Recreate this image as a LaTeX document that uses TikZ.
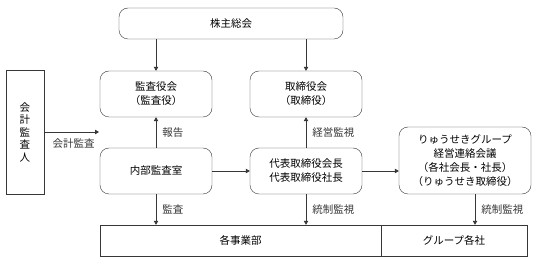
\documentclass[tikz,border=0pt]{standalone}
\usepackage{fontspec}
\setmainfont{Noto Sans CJK JP}
\usetikzlibrary{arrows.meta, positioning, calc}
\definecolor{linegray}{RGB}{55, 55, 55}

\begin{document}
\begin{tikzpicture}[x=1pt, y=-1pt,
  rbox/.style={draw=linegray, rounded corners=9pt, inner sep=0pt, align=center, font=\fontsize{10.5}{14}\selectfont},
  sbox/.style={draw=linegray, inner sep=0pt, align=center, font=\fontsize{10.5}{14}\selectfont},
  arr/.style={-{Triangle[length=4pt, width=4.5pt]}, linegray, line width=0.8pt},
  lbl/.style={font=\fontsize{10.5}{14}\selectfont, inner sep=0pt, right=6pt}
]
  \fill[white] (0,0) rectangle (543,264);
  \useasboundingbox (0,0) rectangle (543,264);

  \node[rbox, minimum width=224pt, minimum height=31pt] (kabu) at (231, 23.5) {株主総会};
  \node[rbox, minimum width=112pt, minimum height=46pt] (kansa) at (156, 94) {監査役会\\（監査役）};
  \node[rbox, minimum width=112pt, minimum height=46pt] (torishimari) at (306, 94) {取締役会\\（取締役）};
  \node[sbox, minimum width=38pt, minimum height=124pt, font=\fontsize{10.5}{12.5}\selectfont] (kaikei) at (25, 132) {会\\計\\監\\査\\人};
  \node[rbox, minimum width=112pt, minimum height=46pt] (naibu) at (156, 171) {内部監査室};
  \node[rbox, minimum width=112pt, minimum height=46pt] (daihyo) at (306, 171) {代表取締役会長\\代表取締役社長};
  \node[rbox, minimum width=132pt, minimum height=67pt] (group) at (465, 160.5) {りゅうせきグループ\\経営連絡会議\\（各社会長・社長）\\（りゅうせき取締役）};
  \node[sbox, minimum width=281pt, minimum height=31pt] (jigyo) at (240.5, 240.5) {各事業部};
  \node[sbox, minimum width=146pt, minimum height=31pt] (kakusha) at (454, 240.5) {グループ各社};
  \coordinate (kaikeiend) at (99, 132);

  \draw[arr] (kabu.south -| kansa) -- (kansa);
  \draw[arr] (kabu.south -| torishimari) -- (torishimari);
  \draw[arr] (naibu) -- node[lbl] {報告} (kansa);
  \draw[arr] (daihyo) -- node[lbl] {経営監視} (torishimari);
  \draw[arr] (kaikei) -- node[lbl, right=0pt, below=6pt, xshift=2pt] {会計監査} (kaikeiend);
  \draw[arr] (naibu) -- (daihyo);
  \draw[arr] (daihyo) -- (group.west |- daihyo);
  \draw[arr] (naibu) -- node[lbl] {監査} (naibu |- jigyo.north);
  \draw[arr] (daihyo) -- node[lbl] {統制監視} (daihyo |- jigyo.north);
  \draw[arr] ([xshift=10pt]group.south) -- node[lbl] {統制監視} ([xshift=10pt]group.south |- kakusha.north);
\end{tikzpicture}
\end{document}
